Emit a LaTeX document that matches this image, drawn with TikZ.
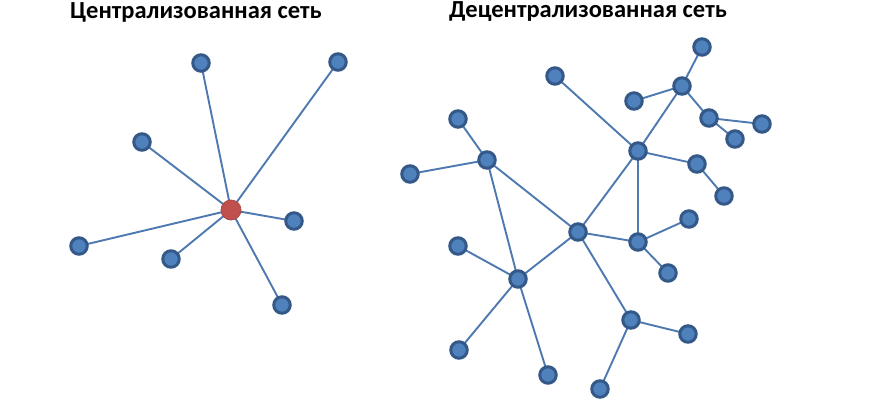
\documentclass[tikz,border=0pt]{standalone}
\usepackage{fontspec}
\setmainfont{Carlito}
\definecolor{nodefill}{RGB}{79,129,189}
\definecolor{nodeedge}{RGB}{52,88,135}
\definecolor{linkcol}{RGB}{78,121,176}
\definecolor{hubred}{RGB}{192,80,77}
\begin{document}
\begin{tikzpicture}[x=1pt,y=-1pt,
  nd/.style={circle,minimum size=16.5pt,inner sep=0pt,fill=nodefill,draw=nodeedge,line width=3pt},
  hub/.style={circle,minimum size=20pt,inner sep=0pt,fill=hubred,draw=hubred!90!black,line width=0.8pt},
  lk/.style={draw=linkcol,line width=1.9pt},
  ttl/.style={font=\bfseries\fontsize{24.5}{28}\selectfont,text=black,inner sep=0pt}]
\useasboundingbox (0,0) rectangle (870,400);
\node[ttl] (t1) at (196,12) {Централизованная сеть};
\node[ttl] (t2) at (588,12) {Децентрализованная сеть};
% centralized
\coordinate (c0) at (231,210);
\coordinate (p1) at (201,63);
\coordinate (p2) at (338,62);
\coordinate (p3) at (142,142);
\coordinate (p4) at (294,221);
\coordinate (p5) at (79,246);
\coordinate (p6) at (171,259);
\coordinate (p7) at (282,305);
\foreach \p in {p1,p2,p3,p4,p5,p6,p7} \draw[lk] (c0) -- (\p);
\foreach \p in {p1,p2,p3,p4,p5,p6,p7} \node[nd] at (\p) {};
\node[hub] (n0) at (c0) {};
% decentralized
\coordinate (A) at (487,160);
\coordinate (a1) at (458,119);
\coordinate (a2) at (410,174);
\coordinate (B) at (578,232);
\coordinate (C) at (518,279);
\coordinate (c1) at (458,246);
\coordinate (c2) at (459,350);
\coordinate (c3) at (548,375);
\coordinate (D) at (638,151);
\coordinate (d1) at (555,76);
\coordinate (E) at (682,86);
\coordinate (e1) at (702,47);
\coordinate (e2) at (634,101);
\coordinate (F) at (709,118);
\coordinate (f1) at (762,124);
\coordinate (f2) at (735,139);
\coordinate (G) at (697,164);
\coordinate (g1) at (724,196);
\coordinate (H) at (638,242);
\coordinate (h1) at (689,219);
\coordinate (h2) at (668,273);
\coordinate (I) at (631,320);
\coordinate (i1) at (688,334);
\coordinate (i2) at (600,389);
\foreach \u/\v in {A/a1,A/a2,A/B,A/C,B/C,C/c1,C/c2,C/c3,B/D,D/d1,D/E,E/e1,E/e2,E/F,F/f1,F/f2,D/G,G/g1,D/H,B/H,H/h1,H/h2,B/I,I/i1,I/i2}
  \draw[lk] (\u) -- (\v);
\foreach \p in {A,a1,a2,B,C,c1,c2,c3,D,d1,E,e1,e2,F,f1,f2,G,g1,H,h1,h2,I,i1,i2}
  \node[nd] (n\p) at (\p) {};
\end{tikzpicture}
\end{document}
